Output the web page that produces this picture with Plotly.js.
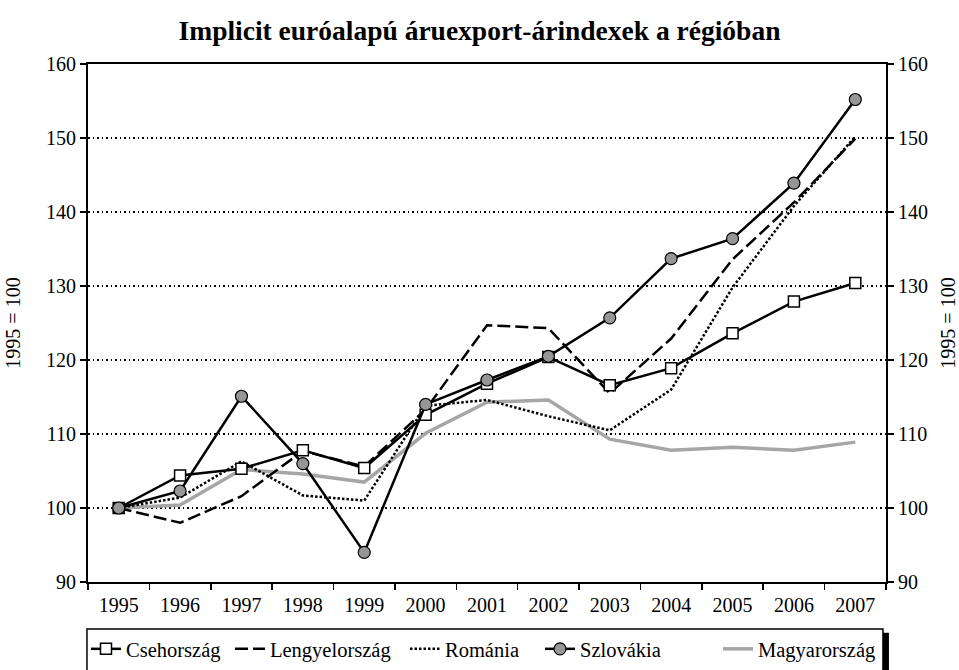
<!DOCTYPE html>
<html>
<head>
<meta charset="utf-8">
<script src="https://cdn.plot.ly/plotly-3.0.1.min.js"></script>
<style>html,body{margin:0;padding:0;background:#fff;}#chart{width:959px;height:670px;}</style>
</head>
<body>
<div id="chart"></div>
<script>
const years = ['1995','1996','1997','1998','1999','2000','2001','2002','2003','2004','2005','2006','2007'];
const cseh = [100, 104.4, 105.3, 107.8, 105.4, 112.6, 116.8, 120.4, 116.6, 118.9, 123.6, 127.9, 130.4];
const lengyel = [100, 98.0, 101.6, 107.7, 105.6, 113.3, 124.7, 124.3, 115.5, 122.9, 133.6, 141.3, 149.9];
const romania = [100, 101.4, 106.3, 101.7, 101.0, 113.8, 114.6, 112.4, 110.5, 116.0, 129.8, 140.8, 150.2];
const szlovakia = [100, 102.3, 115.1, 106.0, 94.0, 114.0, 117.3, 120.5, 125.7, 133.7, 136.4, 143.9, 155.2];
const magyar = [100, 100.4, 105.2, 104.6, 103.5, 110.1, 114.3, 114.6, 109.3, 107.8, 108.2, 107.8, 108.9];
const yTicks = [90, 100, 110, 120, 130, 140, 150, 160];
const names = ['Csehország', 'Lengyelország', 'Románia', 'Szlovákia', 'Magyarország'];

const FONT = '"Liberation Serif", "Times New Roman", serif';

const traces = [
  {x: years, y: magyar, name: names[4], mode: 'lines', line: {color: '#a6a6a6', width: 3.5}, legend: 'legend5'},
  {x: years, y: romania, name: names[2], mode: 'lines', line: {color: '#000', width: 2.5, dash: '2.5px,2px'}, legend: 'legend3'},
  {x: years, y: lengyel, name: names[1], mode: 'lines', line: {color: '#000', width: 2.5, dash: '13px,5px'}, legend: 'legend2'},
  {x: years, y: cseh, name: names[0], mode: 'lines+markers', line: {color: '#000', width: 2.5},
   marker: {symbol: 'square', size: 11, color: '#fff', line: {color: '#000', width: 1.5}}, legend: 'legend'},
  {x: years, y: szlovakia, name: names[3], mode: 'lines+markers', line: {color: '#000', width: 2.5},
   marker: {symbol: 'circle', size: 12, color: '#969696', line: {color: '#000', width: 1.2}}, legend: 'legend4'},
  {x: years, y: cseh, yaxis: 'y2', mode: 'lines', line: {width: 0}, opacity: 0, showlegend: false, hoverinfo: 'skip'}
];

const axisCommon = {
  range: [90, 160], tickvals: yTicks, ticks: 'outside', ticklen: 6, tickwidth: 1.5, tickcolor: '#000',
  showline: true, linecolor: '#000', linewidth: 2, zeroline: false,
  tickfont: {family: FONT, size: 20, color: '#000'}
};

function legendAt(textStartPx) {
  return {orientation: 'h', x: (textStartPx - 39) / 959, xanchor: 'left', y: 1 - 629 / 670, yanchor: 'top',
          xref: 'container', yref: 'container', itemwidth: 30,
          bgcolor: 'rgba(0,0,0,0)', font: {family: FONT, size: 20.5, color: '#000'}};
}

const layout = {
  width: 959, height: 670,
  margin: {l: 88, r: 73, t: 64, b: 88},
  paper_bgcolor: '#fff', plot_bgcolor: '#fff',
  font: {family: FONT, color: '#000'},
  title: {text: '<b>Implicit euróalapú áruexport-árindexek a régióban</b>', font: {family: FONT, size: 27.5, color: '#000'},
          x: 0.5, xanchor: 'center', y: 1 - 30 / 670, yanchor: 'middle', yref: 'container', xref: 'container'},
  xaxis: {type: 'category', tickson: 'boundaries', ticks: 'outside', ticklen: 6, tickwidth: 1.5, tickcolor: '#000',
          showline: true, linecolor: '#000', linewidth: 2, mirror: true, showgrid: false, ticklabelstandoff: 4,
          range: [-0.5, 12.5], tickfont: {family: FONT, size: 20, color: '#000'}},
  yaxis: Object.assign({}, axisCommon, {side: 'left', showgrid: true, gridcolor: '#000', griddash: '1.5px,3px', gridwidth: 1.2,
          title: {text: '1995 = 100', font: {family: FONT, size: 20, color: '#000'}, standoff: 20}}),
  yaxis2: Object.assign({}, axisCommon, {side: 'right', overlaying: 'y', matches: 'y', showgrid: false,
          title: {text: '1995 = 100', font: {family: FONT, size: 20, color: '#000'}, standoff: 14}}),
  showlegend: true,
  legend: legendAt(125),
  legend2: legendAt(269),
  legend3: legendAt(444),
  legend4: legendAt(579),
  legend5: legendAt(757),
  shapes: [
    {type: 'rect', xref: 'paper', yref: 'paper', x0: -0.0013, x1: 0.9962, y0: -0.0907, y1: -0.2,
     line: {color: '#000', width: 1.5}, fillcolor: 'rgba(0,0,0,0)'},
    {type: 'rect', xref: 'paper', yref: 'paper', x0: 0.9962, x1: 1.0037, y0: -0.098, y1: -0.2,
     line: {width: 0}, fillcolor: '#000'}
  ]
};

Plotly.newPlot('chart', traces, layout, {displayModeBar: false, staticPlot: true});
</script>
</body>
</html>
